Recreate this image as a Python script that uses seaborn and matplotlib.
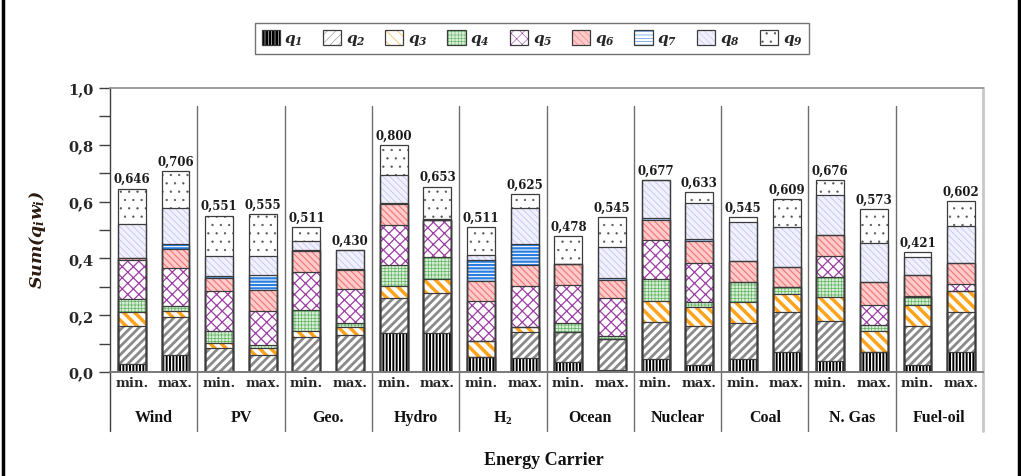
import numpy as np
import pandas as pd
import seaborn as sns
import matplotlib.pyplot as plt
import matplotlib.patches as mpatches
from matplotlib.legend_handler import HandlerTuple
from matplotlib.lines import Line2D
from matplotlib.ticker import FuncFormatter, MultipleLocator

carriers = ['Wind', 'PV', 'Geo.', 'Hydro', r'H$\mathregular{_2}$', 'Ocean', 'Nuclear', 'Coal', 'N. Gas', 'Fuel-oil']
cases = ['min.', 'max.']

# criterion contributions q_i*w_i, order: carrier min, carrier max, ...
q1 = [0.028, 0.061, 0.002, 0.003, 0.005, 0.000, 0.136, 0.136, 0.054, 0.048,
      0.034, 0.007, 0.046, 0.025, 0.046, 0.071, 0.040, 0.071, 0.026, 0.071]
q2 = [0.135, 0.132, 0.081, 0.057, 0.117, 0.130, 0.123, 0.141, 0.000, 0.092,
      0.108, 0.109, 0.131, 0.138, 0.125, 0.141, 0.141, 0.000, 0.137, 0.139]
q3 = [0.049, 0.023, 0.018, 0.025, 0.024, 0.030, 0.045, 0.050, 0.054, 0.020,
      0.000, 0.000, 0.074, 0.065, 0.074, 0.063, 0.082, 0.072, 0.073, 0.076]
q4 = [0.045, 0.015, 0.042, 0.011, 0.073, 0.011, 0.074, 0.077, 0.000, 0.000,
      0.029, 0.010, 0.076, 0.017, 0.073, 0.025, 0.073, 0.024, 0.027, 0.000]
q5 = [0.137, 0.134, 0.141, 0.120, 0.134, 0.121, 0.141, 0.132, 0.141, 0.142,
      0.136, 0.134, 0.139, 0.138, 0.000, 0.000, 0.071, 0.070, 0.006, 0.024]
q6 = [0.006, 0.068, 0.046, 0.073, 0.073, 0.067, 0.073, 0.000, 0.073, 0.075,
      0.073, 0.063, 0.069, 0.079, 0.074, 0.071, 0.076, 0.079, 0.074, 0.073]
q7 = [0.000, 0.018, 0.009, 0.054, 0.005, 0.003, 0.003, 0.000, 0.074, 0.074,
      0.000, 0.007, 0.006, 0.005, 0.000, 0.000, 0.000, 0.000, 0.000, 0.000]
q8 = [0.121, 0.126, 0.068, 0.067, 0.029, 0.068, 0.097, 0.004, 0.016, 0.125,
      0.000, 0.109, 0.136, 0.127, 0.135, 0.141, 0.140, 0.137, 0.061, 0.132]
q9 = [0.125, 0.129, 0.144, 0.145, 0.051, 0.000, 0.108, 0.113, 0.099, 0.049,
      0.098, 0.106, 0.000, 0.039, 0.018, 0.097, 0.053, 0.120, 0.017, 0.087]

layers = [q1, q2, q3, q4, q5, q6, q7, q8, q9]
names = ['q1', 'q2', 'q3', 'q4', 'q5', 'q6', 'q7', 'q8', 'q9']
# (face, hatch colour, hatch, hatch lw)
styles = [
    ('black', 'white', '|||||', 1.0),
    ('white', '#8a8a8a', '////', 2.0),
    ('white', '#ffa31a', '\\\\\\', 2.5),
    ('#d6eed6', '#64b464', '+++++', 0.5),
    ('white', '#9c3ea4', 'xxx', 0.9),
    ('#ffcaca', '#f07676', '\\\\\\\\\\', 0.8),
    ('white', '#2a7ee0', '-----', 1.6),
    ('#f0f0ff', '#c4c4ec', '\\\\\\\\\\', 0.6),
    ('white', '#555555', '..', 0.4),
]

sns.set_style('white')
plt.rcParams['font.family'] = 'DejaVu Serif'
plt.rcParams['mathtext.fontset'] = 'custom'
plt.rcParams['mathtext.rm'] = 'DejaVu Serif:bold:italic'
plt.rcParams['mathtext.it'] = 'DejaVu Serif:bold:italic'
plt.rcParams['mathtext.bf'] = 'DejaVu Serif:bold:italic'

labels = [c + ' ' + s for c in carriers for s in cases]
data = pd.DataFrame({n: v for n, v in zip(names, layers)})
data['label'] = labels
cum = data[names].cumsum(axis=1)
totals = cum['q9'].values

fig = plt.figure(figsize=(10.21, 4.77), dpi=100)
ax = fig.add_axes([110 / 1021, 1 - 373 / 477, 873 / 1021, 284 / 477])

bw = 0.64
# layered cumulative bars: tallest first, each lower layer paints over it
for k in range(8, -1, -1):
    face, hc, hatch, hlw = styles[k]
    plt.rcParams['hatch.linewidth'] = hlw
    df = pd.DataFrame({'label': labels, 'top': cum[names[k]].values})
    n0 = len(ax.patches)
    sns.barplot(data=df, x='label', y='top', order=labels, color=face, saturation=1,
                width=bw, errorbar=None, hatch=hatch, edgecolor=hc, linewidth=0, ax=ax)
    for p in ax.patches[n0:]:
        if hasattr(p, 'set_hatch_linewidth'):
            p.set_hatch_linewidth(hlw)
plt.rcParams['hatch.linewidth'] = 1.0

xs = np.arange(len(labels))
for k in range(9):
    ax.bar(xs, cum[names[k]].values, width=bw, fill=False, edgecolor='#3c3c3c', linewidth=0.9)

for x, t in zip(xs, totals):
    ax.text(x, t + 0.012, f'{t:.3f}'.replace('.', ','), ha='center', va='bottom',
            fontsize=8.5, fontweight='bold', color='#1a1a1a')

ax.set_xlim(-0.5, len(labels) - 0.5)
ax.set_ylim(0, 1.0)
ax.yaxis.set_major_locator(MultipleLocator(0.2))
ax.yaxis.set_minor_locator(MultipleLocator(0.1))
ax.yaxis.set_major_formatter(FuncFormatter(lambda v, p: f'{v:.1f}'.replace('.', ',')))
ax.tick_params(axis='y', which='both', direction='out', length=8, width=1, color='#404040',
               left=True, labelsize=10.5, pad=4)
for t in ax.get_yticklabels():
    t.set_fontweight('bold')
ax.set_xticks(xs)
ax.set_xticklabels([s for c in carriers for s in cases], fontsize=9.5, fontweight='bold')
ax.tick_params(axis='x', length=0, pad=3)
ax.set_xlabel('')
ax.set_ylabel('')

ax.spines['left'].set_color('#404040')
ax.spines['left'].set_linewidth(1.0)
ax.spines['bottom'].set_color('#7a7a7a')
ax.spines['bottom'].set_linewidth(1.4)
ax.spines['top'].set_color('#8c8c8c')
ax.spines['top'].set_linewidth(1.2)
ax.spines['right'].set_color('#c8c8c8')
ax.spines['right'].set_linewidth(2.0)

trans = ax.get_xaxis_transform()
for g in range(1, len(carriers)):
    ax.plot([2 * g - 0.5] * 2, [0.937, -0.208], transform=trans, color='#6e6e6e',
            lw=1.0, clip_on=False)
ax.plot([-0.5, -0.5], [0, -0.208], transform=trans, color='#404040', lw=1.0, clip_on=False)
ax.plot([19.5, 19.5], [0, -0.208], transform=trans, color='#c8c8c8', lw=2.0, clip_on=False)

for g, c in enumerate(carriers):
    ax.text(2 * g + 0.5, -0.158, c, transform=trans, ha='center', va='center',
            fontsize=11.5, fontweight='bold', family='Liberation Serif', color='#111111')

fig.text(544 / 1021, 1 - 461 / 477, 'Energy Carrier', ha='center', va='center',
         fontsize=13, fontweight='bold', family='Liberation Serif', color='#111111')
fig.text(38 / 1021, 1 - 240 / 477, r'Sum$(q_iw_i)$', rotation=90, ha='center', va='center',
         fontsize=12.5, fontweight='bold', style='italic', color='#2a1a10')

handles = []
for face, hc, hatch, hlw in styles:
    plt.rcParams['hatch.linewidth'] = hlw
    fp = mpatches.Patch(facecolor=face, edgecolor=hc, hatch=hatch, linewidth=0)
    if hasattr(fp, 'set_hatch_linewidth'):
        fp.set_hatch_linewidth(hlw)
    op = mpatches.Patch(fill=False, edgecolor='#3c3c3c', linewidth=0.9)
    handles.append((fp, op))
leg = fig.legend(handles, [rf'$q_{i}$' for i in range(1, 10)], ncol=9,
                 handler_map={tuple: HandlerTuple(ndivide=1, pad=0)},
                 loc='center', bbox_to_anchor=(532 / 1021, 1 - 39.5 / 477),
                 fontsize=11, frameon=True, fancybox=False, edgecolor='#505050',
                 handlelength=1.2, handleheight=1.2, handletextpad=0.3,
                 columnspacing=1.3, borderpad=0.4)
leg.get_frame().set_linewidth(1.0)

fig.add_artist(Line2D([3 / 1021] * 2, [0, 1], color='black', lw=2.5, transform=fig.transFigure))
fig.add_artist(Line2D([1019 / 1021] * 2, [0, 1], color='black', lw=2.5, transform=fig.transFigure))

fig.savefig('out.png', dpi=100)
